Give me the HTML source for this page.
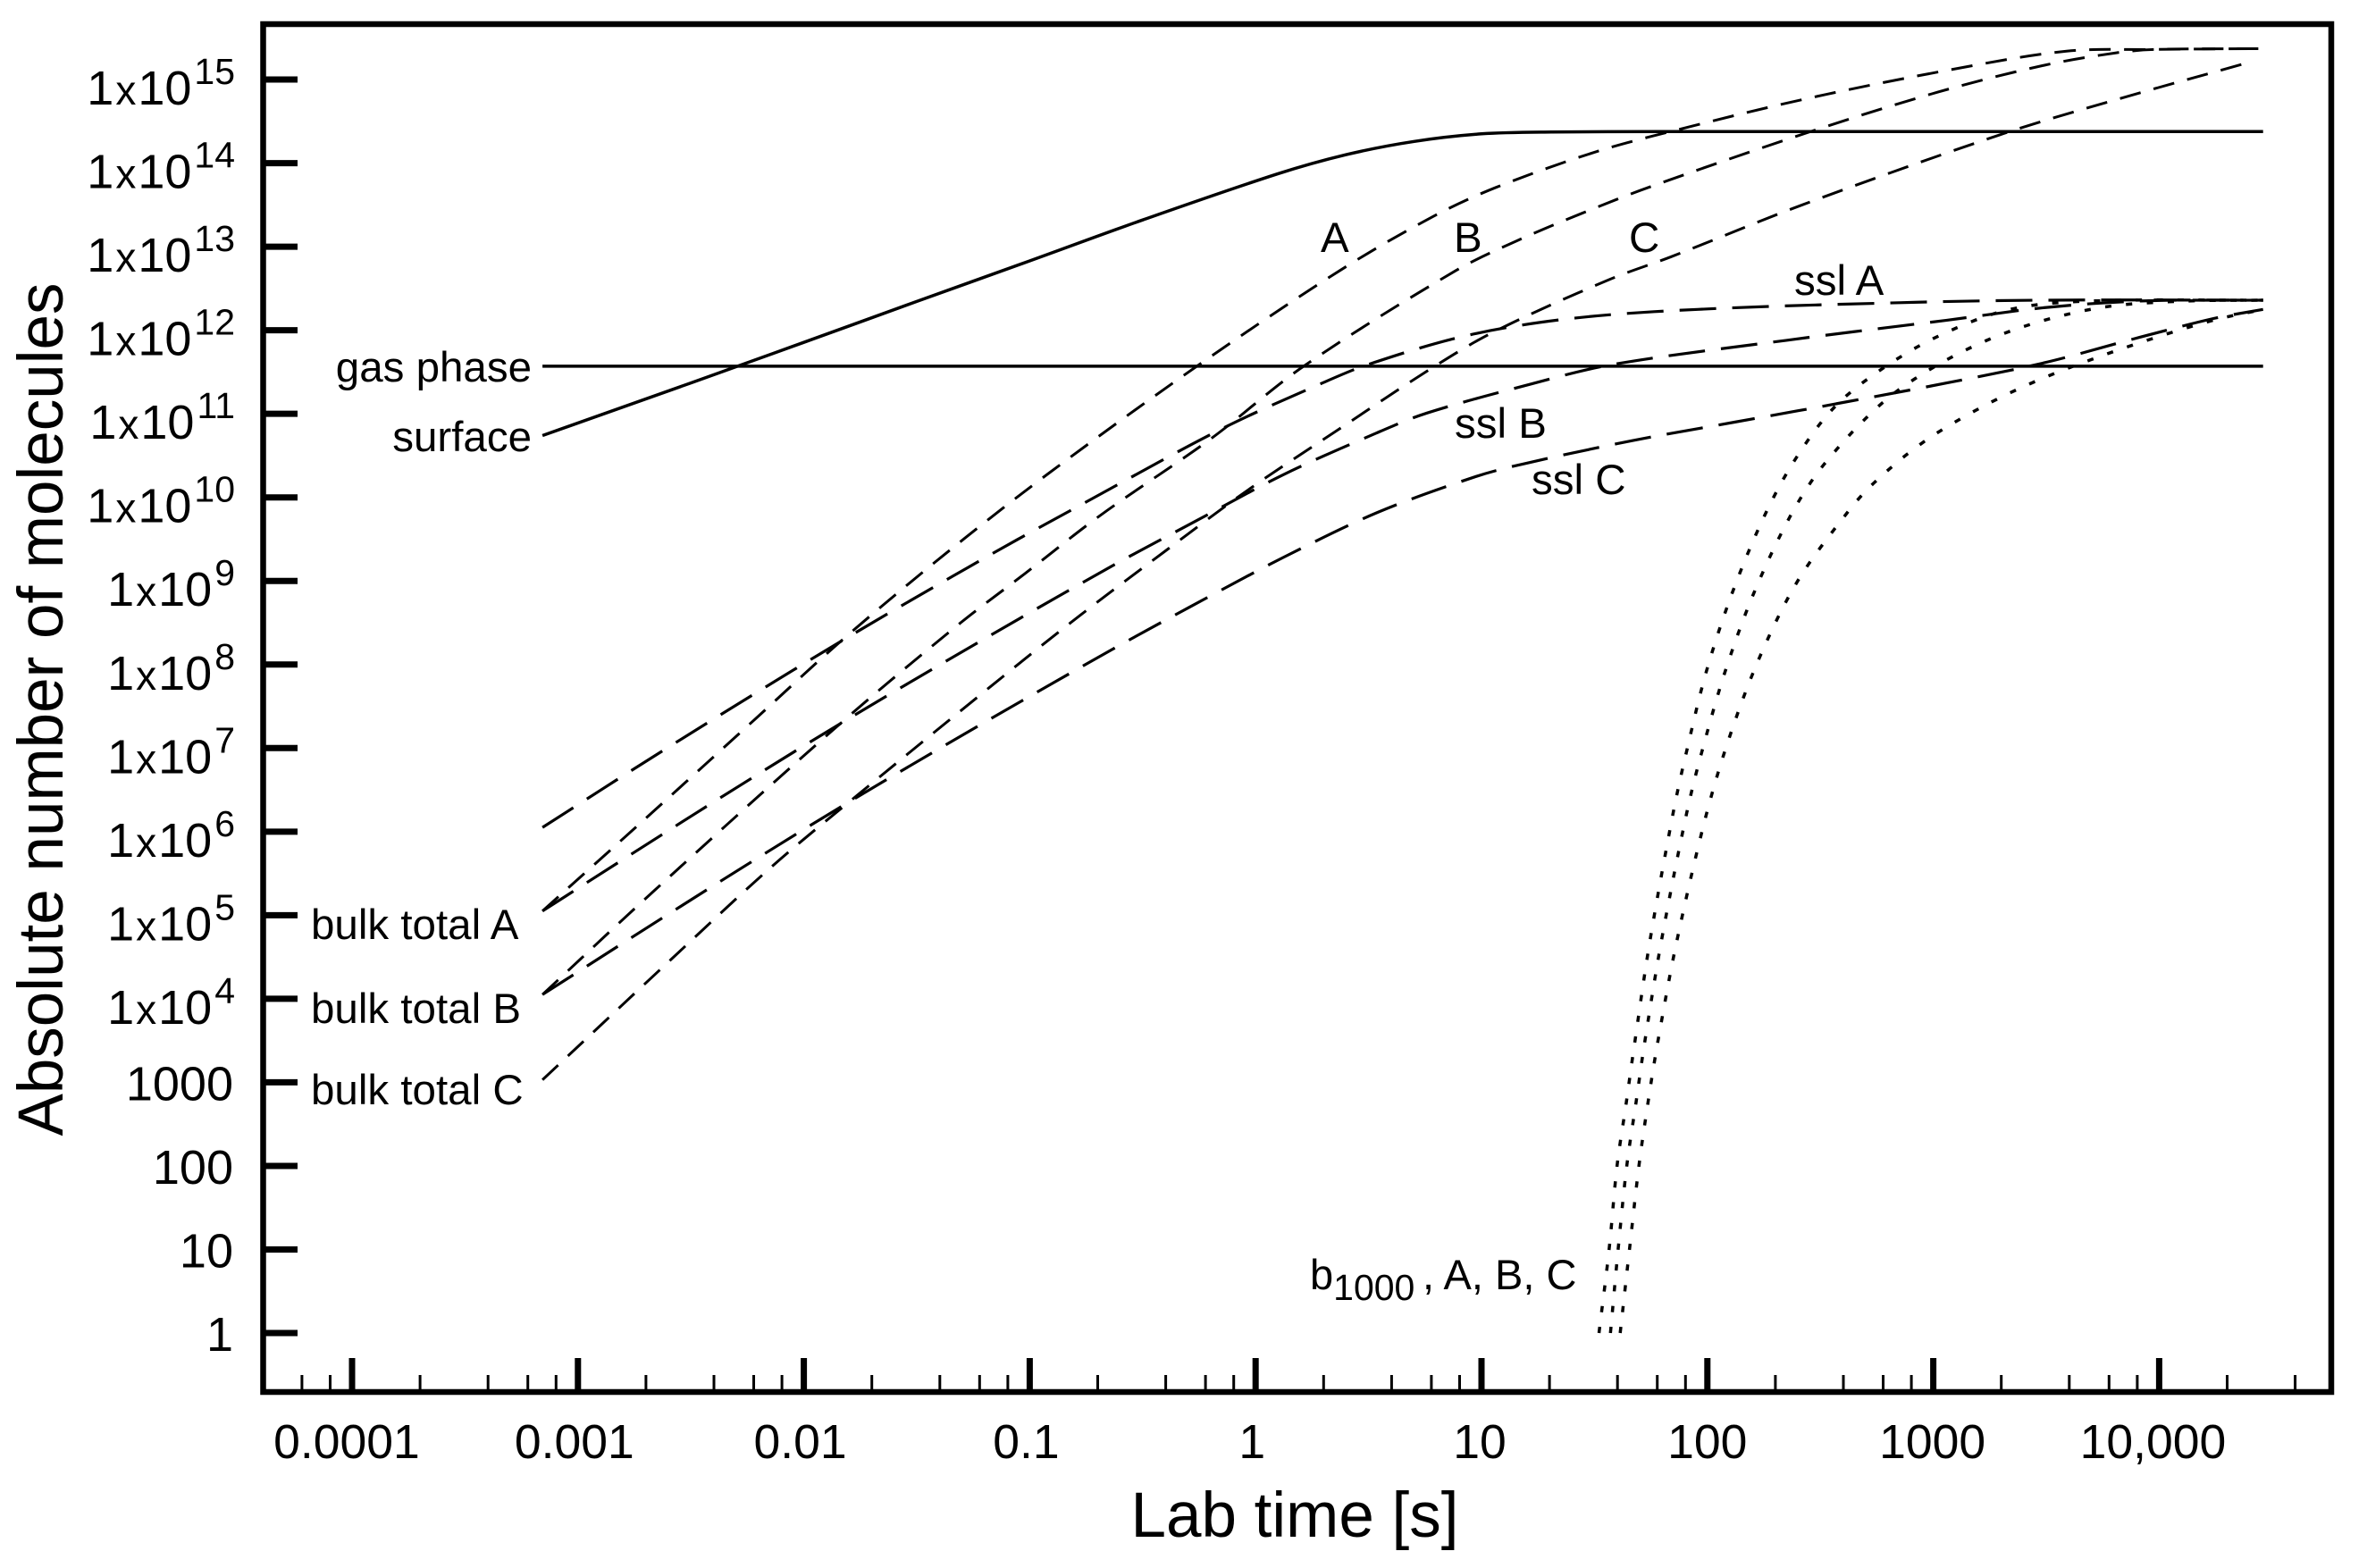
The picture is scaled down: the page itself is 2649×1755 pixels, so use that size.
<!DOCTYPE html>
<html lang="en">
<head>
<meta charset="utf-8">
<title>Absolute number of molecules vs lab time</title>
<style>
html,body{margin:0;padding:0;background:#fff;}
svg{display:block;}
text{font-family:"Liberation Sans",Arial,sans-serif;fill:#000;}
</style>
</head>
<body>
<svg id="chart" xmlns="http://www.w3.org/2000/svg" width="2649" height="1755" viewBox="0 0 2649 1755">
  <rect x="0" y="0" width="2649" height="1755" fill="#fff"/>
  <g id="series"></g>
  <rect x="294.5" y="27" width="2314.5" height="1531" fill="none" stroke="#000" stroke-width="6.5"/>
  <g id="axes"></g>
  <text x="1449" y="1720" font-size="71" text-anchor="middle">Lab time [s]</text>
  <text transform="translate(70 794) rotate(-90)" font-size="71" text-anchor="middle">Absolute number of molecules</text>
  <text x="595" y="427" font-size="47.5" text-anchor="end">gas phase</text>
  <text x="595" y="505" font-size="47.5" text-anchor="end">surface</text>
  <text x="348" y="1051" font-size="47.5">bulk total A</text>
  <text x="348" y="1145" font-size="47.5">bulk total B</text>
  <text x="348" y="1236" font-size="47.5">bulk total C</text>
  <text x="1478" y="282" font-size="47.5">A</text>
  <text x="1627" y="282" font-size="47.5">B</text>
  <text x="1823" y="282" font-size="47.5">C</text>
  <text x="2008" y="330" font-size="47.5">ssl A</text>
  <text x="1628" y="490" font-size="47.5">ssl B</text>
  <text x="1714" y="553" font-size="47.5">ssl C</text>
  <text x="1466" y="1443" font-size="47">b<tspan font-size="41" dy="12">1000</tspan><tspan x="1592" dy="-12">, A, B, C</tspan></text>
</svg>
<script>
// Tick data
const xMajorExponents = [-4, -3, -2, -1, 0, 1, 2, 3, 4];
const xTickLabels = ['0.0001', '0.001', '0.01', '0.1', '1', '10', '100', '1000', '10,000'];
const xMinorMultipliers = [2, 4, 6, 8];
const yExponents = [0, 1, 2, 3, 4, 5, 6, 7, 8, 9, 10, 11, 12, 13, 14, 15];

// Series data: log10(time / s) and log10(molecules)
const gasLogT = [-3.157, 4.46];
const gasLogN = [11.57, 11.57];

const surfaceLogT = [-3.157, -2.5, -2, -1.5, -1, -0.5, 0.096, 0.399, 0.702, 1, 1.31, 1.8, 4.46];
const surfaceLogN = [10.74, 11.37, 11.855, 12.345, 12.83, 13.32, 13.87, 14.10, 14.26, 14.35, 14.372, 14.377, 14.377];

const bulkALogT = [-3.157, -2.667, -2.21, -1.84, -1.385, -0.92, -0.26, 0.376, 0.785, 1.065, 1.5, 1.84, 2.42, 3.06, 3.59, 3.96, 4.46];
const bulkALogN = [5.05, 6.24, 7.36, 8.27, 9.30, 10.28, 11.57, 12.72, 13.36, 13.71, 14.13, 14.38, 14.76, 15.11, 15.34, 15.36, 15.37];

const bulkBLogT = [-3.157, -2.656, -1.84, -1.31, -1.02, -0.69, -0.194, 0.213, 0.884, 1.156, 1.445, 1.74, 2.46, 3.02, 3.49, 3.81, 3.98, 4.46];
const bulkBLogN = [4.05, 5.31, 7.29, 8.49, 9.09, 9.78, 10.71, 11.57, 12.71, 13.07, 13.40, 13.71, 14.38, 14.85, 15.17, 15.32, 15.36, 15.37];

const bulkCLogT = [-3.157, -2.588, -2.134, -1.77, -1.112, -0.776, -0.404, -0.033, 0.36, 0.77, 1.054, 1.56, 1.84, 2.42, 3.296, 3.81, 4.39];
const bulkCLogN = [3.03, 4.47, 5.60, 6.42, 7.87, 8.59, 9.35, 10.09, 10.80, 11.53, 11.98, 12.60, 12.88, 13.50, 14.34, 14.76, 15.20];

const sslALogT = [-3.157, -2.6, -1.84, -1.17, -0.76, -0.15, 0.28, 0.498, 0.94, 1.395, 1.957, 2.85, 3.49, 4.46];
const sslALogN = [6.05, 7.01, 8.27, 9.32, 9.93, 10.82, 11.35, 11.59, 11.94, 12.14, 12.25, 12.33, 12.36, 12.36];

const sslBLogT = [-3.157, -2.70, -2.29, -1.84, -1.237, -0.635, -0.29, 0.122, 0.535, 0.76, 1.21, 1.58, 2.35, 3.06, 3.49, 3.92, 4.46];
const sslBLogN = [5.05, 5.84, 6.54, 7.29, 8.25, 9.18, 9.68, 10.27, 10.77, 11.01, 11.35, 11.59, 11.88, 12.12, 12.27, 12.35, 12.36];

const sslCLogT = [-3.157, -2.70, -2.29, -1.84, -1.237, -0.635, -0.29, 0.122, 0.54, 0.976, 1.2, 1.67, 2.12, 2.57, 3.06, 3.49, 3.92, 4.24, 4.46];
const sslCLogN = [4.05, 4.84, 5.54, 6.29, 7.25, 8.18, 8.69, 9.28, 9.82, 10.25, 10.41, 10.68, 10.90, 11.12, 11.37, 11.61, 11.92, 12.14, 12.25];

const b1000ALogT = [1.52, 1.565, 1.60, 1.64, 1.679, 1.748, 1.849, 1.907, 1.997, 2.116, 2.26, 2.397, 2.566, 2.78, 3.03, 3.34, 3.70, 4.46];
const b1000ALogN = [0, 1, 2, 2.74, 3.49, 4.73, 6.23, 6.95, 7.93, 8.90, 9.82, 10.49, 11.09, 11.55, 11.94, 12.25, 12.35, 12.36];

const b1000BLogT = [1.571, 1.605, 1.643, 1.683, 1.723, 1.799, 1.909, 1.974, 2.079, 2.205, 2.366, 2.515, 2.77, 2.997, 3.255, 3.52, 3.79, 4.13, 4.46];
const b1000BLogN = [0, 1, 2, 2.74, 3.49, 4.73, 6.23, 6.94, 7.92, 8.85, 9.77, 10.39, 11.12, 11.55, 11.90, 12.14, 12.29, 12.35, 12.36];

const b1000CLogT = [1.614, 1.655, 1.697, 1.736, 1.781, 1.867, 1.995, 2.10, 2.232, 2.40, 2.617, 2.74, 2.95, 3.20, 3.445, 3.70, 3.97, 4.24, 4.46];
const b1000CLogN = [0, 1, 2, 2.74, 3.49, 4.72, 6.2, 7.15, 8.09, 9.0, 9.81, 10.18, 10.65, 11.06, 11.38, 11.65, 11.90, 12.12, 12.25];

// Axis functions
const X_ORIGIN = 394, X_DECADE = 252.8, Y_ORIGIN = 1492, Y_DECADE = 93.53;
function xScale(logT) { return X_ORIGIN + (logT + 4) * X_DECADE; }
function yScale(logN) { return Y_ORIGIN - logN * Y_DECADE; }

const NS = 'http://www.w3.org/2000/svg';
const seriesLayer = document.getElementById('series');
const axesLayer = document.getElementById('axes');

function make(tag, parent, attrs) {
  const el = document.createElementNS(NS, tag);
  for (const k in attrs) el.setAttribute(k, attrs[k]);
  parent.appendChild(el);
  return el;
}

// Smooth curve through the data points, with tangents weighted by segment length
function curvePath(logT, logN) {
  const pts = logT.map((t, i) => [xScale(t), yScale(logN[i])]);
  const n = pts.length;
  const dist = (a, b) => Math.hypot(a[0] - b[0], a[1] - b[1]);
  const tangent = i => {
    const a = pts[Math.max(i - 1, 0)], b = pts[Math.min(i + 1, n - 1)];
    const len = dist(a, b) || 1;
    return [(b[0] - a[0]) / len, (b[1] - a[1]) / len];
  };
  let d = 'M' + pts[0][0].toFixed(1) + ' ' + pts[0][1].toFixed(1);
  for (let i = 0; i < n - 1; i++) {
    const p1 = pts[i], p2 = pts[i + 1];
    const seg = dist(p1, p2) / 3;
    const t1 = tangent(i), t2 = tangent(i + 1);
    d += 'C' + (p1[0] + t1[0] * seg).toFixed(1) + ' ' + (p1[1] + t1[1] * seg).toFixed(1) + ' ' +
         (p2[0] - t2[0] * seg).toFixed(1) + ' ' + (p2[1] - t2[1] * seg).toFixed(1) + ' ' +
         p2[0].toFixed(1) + ' ' + p2[1].toFixed(1);
  }
  return d;
}

function drawCurve(logT, logN, width, dash) {
  const attrs = { d: curvePath(logT, logN), fill: 'none', stroke: '#000', 'stroke-width': width };
  if (dash) attrs['stroke-dasharray'] = dash;
  return make('path', seriesLayer, attrs);
}

const SHORT_DASH = '24 15', LONG_DASH = '41 18', DOT = '7 16.4';

const gasCurve = drawCurve(gasLogT, gasLogN, 3.5);



const surfaceCurve = drawCurve(surfaceLogT, surfaceLogN, 3.5);



const bulkA = drawCurve(bulkALogT, bulkALogN, 3, SHORT_DASH);



const bulkB = drawCurve(bulkBLogT, bulkBLogN, 3, SHORT_DASH);



const bulkC = drawCurve(bulkCLogT, bulkCLogN, 3, SHORT_DASH);



const sslA = drawCurve(sslALogT, sslALogN, 3.2, LONG_DASH);



const sslB = drawCurve(sslBLogT, sslBLogN, 3.2, LONG_DASH);



const sslC = drawCurve(sslCLogT, sslCLogN, 3.2, LONG_DASH);



const b1000A = drawCurve(b1000ALogT, b1000ALogN, 3.5, DOT);



const b1000B = drawCurve(b1000BLogT, b1000BLogN, 3.5, DOT);



const b1000C = drawCurve(b1000CLogT, b1000CLogN, 3.5, DOT);



// X axis ticks
const AXIS_Y = 1558, AXIS_X = 294.5, AXIS_RIGHT = 2609;
const xLabelOffset = [-6, -4, -4, -4, -4, -2, 0, -1, -7];
xMajorExponents.forEach((e, i) => {
  const x = xScale(e);
  const tick = make('line', axesLayer, { x1: x, x2: x, y1: 1520, y2: AXIS_Y, stroke: '#000', 'stroke-width': 7 });
  
  
  const label = make('text', axesLayer, { x: x + xLabelOffset[i], y: 1632, 'font-size': 53.5, 'text-anchor': 'middle' });
  label.textContent = xTickLabels[i];
  
  
});
[-5].concat(xMajorExponents).forEach(e => {
  xMinorMultipliers.forEach(m => {
    const x = xScale(e + Math.log10(m));
    if (x <= AXIS_X + 3 || x >= AXIS_RIGHT - 3) return;
    const tick = make('line', axesLayer, { x1: x, x2: x, y1: 1539, y2: AXIS_Y, stroke: '#000', 'stroke-width': 3 });
    
    
  });
});

// Y axis ticks
yExponents.forEach(e => {
  const y = yScale(e);
  const tick = make('line', axesLayer, { x1: AXIS_X, x2: 333, y1: y, y2: y, stroke: '#000', 'stroke-width': 7 });
  
  
  if (e <= 3) {
    const label = make('text', axesLayer, { x: 261, y: y + 20, 'font-size': 54, 'text-anchor': 'end' });
    label.textContent = String(Math.pow(10, e));
    
    
  } else {
    const label = make('text', axesLayer, { x: 263, y: y + 28, 'font-size': 54, 'text-anchor': 'end' });
    
    
    const one = make('tspan', label, {});
    one.textContent = '1';
    const times = make('tspan', label, { 'font-size': 46, dx: 2 });
    times.textContent = 'x';
    const ten = make('tspan', label, { dx: 2 });
    ten.textContent = '10';
    const sup = make('tspan', label, { 'font-size': 41, dx: 3, dy: -23 });
    sup.textContent = String(e);
  }
});
</script>
</body>
</html>
